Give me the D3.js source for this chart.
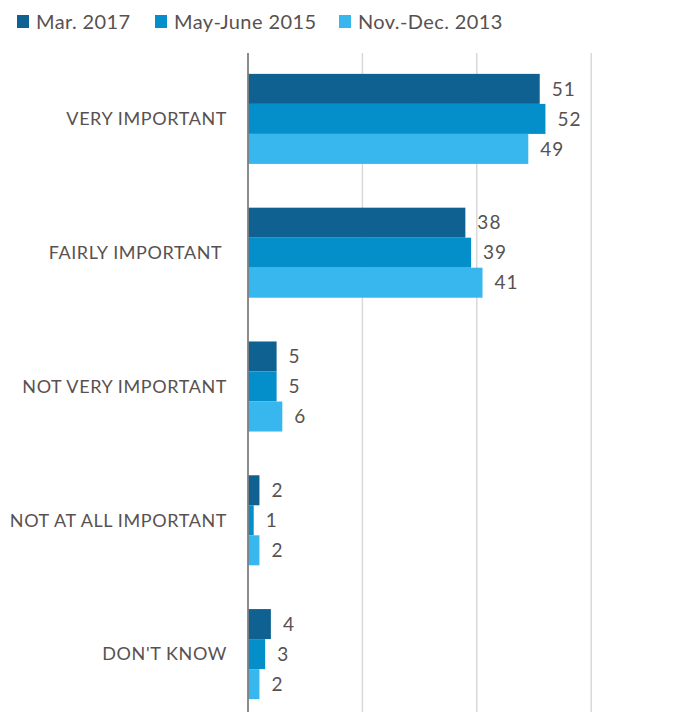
<!DOCTYPE html>
<html><head><meta charset="utf-8">
<script src="https://cdn.jsdelivr.net/npm/d3@7"></script>
<style>body{margin:0;background:#fff}svg{display:block}</style>
</head><body>
<script>
const categories = ["VERY IMPORTANT", "FAIRLY IMPORTANT ", "NOT VERY IMPORTANT", "NOT AT ALL IMPORTANT", "DON'T KNOW"];
const seriesNames = ["Mar. 2017", "May-June 2015", "Nov.-Dec. 2013"];
const mar2017 = [51, 38, 5, 2, 4];
const mayJune2015 = [52, 39, 5, 1, 3];
const novDec2013 = [49, 41, 6, 2, 2];
const gridTicks = [20, 40, 60];
const colors = ["#0e6190", "#058fca", "#38b7ee"];

const W = 695, H = 712;
const font = "Lato, 'Liberation Sans', sans-serif";
const textColor = "#595151";
const svg = d3.select("body").append("svg").attr("width", W).attr("height", H);

const series = [mar2017, mayJune2015, novDec2013];
const x = d3.scaleLinear().domain([0, 20]).range([248, 362.4]);
const y = d3.scaleBand().domain(categories).range([52, 721]).paddingInner(0.327).paddingOuter(0.1635);
const ySub = d3.scaleBand().domain(d3.range(3)).range([0, y.bandwidth()]);

// gridlines
svg.append("g").selectAll("line").data(gridTicks).join("line")
  .attr("x1", d => x(d)).attr("x2", d => x(d))
  .attr("y1", 53).attr("y2", H)
  .attr("stroke", "#d9d9d9").attr("stroke-width", 1.5);

// bars
categories.forEach((c, ci) => {
  const g = svg.append("g").attr("transform", `translate(0,${y(c)})`);
  series.forEach((s, si) => {
    g.append("rect")
      .attr("x", x(0)).attr("y", ySub(si))
      .attr("width", x(s[ci]) - x(0)).attr("height", ySub.bandwidth())
      .attr("fill", colors[si]);
    g.append("text")
      .attr("x", x(s[ci]) + 12).attr("y", ySub(si) + ySub.bandwidth() / 2)
      .attr("dy", "0.35em")
      .attr("font-family", font).attr("font-size", 19).attr("letter-spacing", 1)
      .attr("fill", textColor)
      .text(s[ci]);
  });
});

// axis line
svg.append("line").attr("x1", 248).attr("x2", 248).attr("y1", 53).attr("y2", H)
  .attr("stroke", "#7f7f7f").attr("stroke-width", 1.8);

// category labels
svg.append("g").selectAll("text").data(categories).join("text")
  .attr("x", 227).attr("y", d => y(d) + y.bandwidth() / 2)
  .attr("dy", "0.35em").attr("text-anchor", "end")
  .style("white-space", "pre")
  .attr("font-family", font).attr("font-size", 18).attr("letter-spacing", 0.6)
  .attr("fill", textColor)
  .text(d => d);

// legend
const legendX = [17, 155, 339];
const lg = svg.append("g");
seriesNames.forEach((n, i) => {
  lg.append("rect").attr("x", legendX[i]).attr("y", 15).attr("width", 12).attr("height", 13).attr("fill", colors[i]);
  lg.append("text").attr("x", legendX[i] + 19).attr("y", 22).attr("dy", "0.35em")
    .attr("font-family", font).attr("font-size", 20).attr("letter-spacing", 0.4)
    .attr("fill", textColor).text(n);
});
</script>
</body></html>
